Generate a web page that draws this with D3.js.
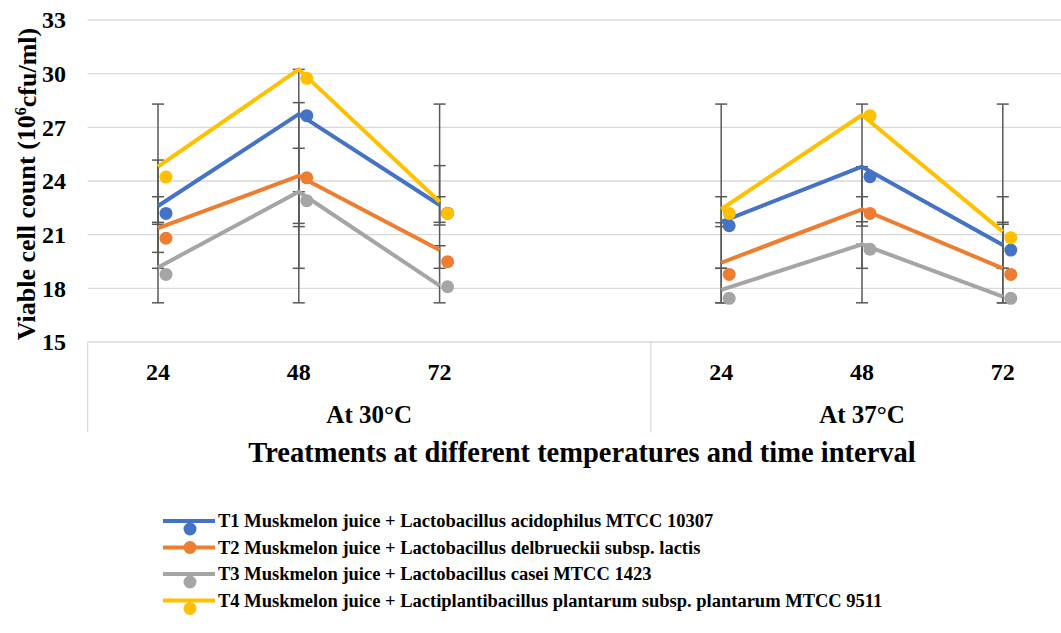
<!DOCTYPE html>
<html>
<head>
<meta charset="utf-8">
<script src="https://d3js.org/d3.v7.min.js"></script>
<style>
  body { margin: 0; background: #fff; }
  svg { display: block; font-family: "Liberation Serif", "Times New Roman", serif; }
</style>
</head>
<body>
<script>
// categories (the blank one is the gap between the two temperatures)
var hours = ["24", "48", "72"];
var temps = ["At 30°C", "At 37°C"];
var slots = ["30-24", "30-48", "30-72", "gap", "37-24", "37-48", "37-72"];
var points = ["30-24", "30-48", "30-72", "37-24", "37-48", "37-72"];
var yTicks = [15, 18, 21, 24, 27, 30, 33];

var names = [
  "T1 Muskmelon juice + Lactobacillus acidophilus MTCC 10307",
  "T2 Muskmelon juice + Lactobacillus delbrueckii subsp. lactis",
  "T3 Muskmelon juice + Lactobacillus casei MTCC 1423",
  "T4 Muskmelon juice + Lactiplantibacillus plantarum subsp. plantarum MTCC 9511"
];
var colors = ["#4472c4", "#ed7d31", "#a5a5a5", "#ffc000"];

// line values
var lineT1 = [22.6, 27.74, 22.66, 21.72, 24.8, 20.42];
var lineT2 = [21.36, 24.28, 20.14, 19.43, 22.42, 19.12];
var lineT3 = [19.17, 23.4, 18.15, 17.91, 20.46, 17.53];
var lineT4 = [24.8, 30.24, 22.84, 22.42, 27.69, 21.17];
// marker values
var dotT1 = [22.19, 27.65, 22.2, 21.5, 24.24, 20.14];
var dotT2 = [20.8, 24.18, 19.49, 18.78, 22.19, 18.78];
var dotT3 = [18.78, 22.9, 18.09, 17.44, 20.18, 17.44];
var dotT4 = [24.22, 29.74, 22.19, 22.19, 27.65, 20.83];
// error bar ends
var lowT1 = [20.01, 21.63, 21.69, 19.12, 21.72, 17.19];
var highT1 = [25.17, 28.38, 24.86, 23.12, 24.8, 23.12];
var lowT2 = [19.12, 19.12, 19.12, 17.19, 19.12, 19.12];
var highT2 = [23.12, 25.83, 23.12, 21.67, 23.12, 21.69];
var lowT3 = [17.19, 17.19, 17.19, 17.19, 17.19, 17.19];
var highT3 = [21.69, 23.4, 20.38, 19.12, 20.46, 21.58];
var lowT4 = [21.58, 21.45, 21.54, 21.45, 21.48, 19.12];
var highT4 = [28.3, 30.24, 28.3, 28.3, 28.3, 28.3];

var lines = [lineT1, lineT2, lineT3, lineT4];
var dots = [dotT1, dotT2, dotT3, dotT4];
var lows = [lowT1, lowT2, lowT3, lowT4];
var highs = [highT1, highT2, highT3, highT4];

var W = 1061, H = 633;
var svg = d3.select("body").append("svg").attr("width", W).attr("height", H);

var x = d3.scaleBand().domain(slots).range([87.6, 1073.2]).padding(0);
var y = d3.scaleLinear().domain([15, 33]).range([342, 20]);
var cx = function(k) { return x(k) + x.bandwidth() / 2; };

// grid
svg.selectAll(".grid").data(yTicks).enter().append("line")
  .attr("x1", x.range()[0]).attr("x2", x.range()[1])
  .attr("y1", function(d) { return y(d); }).attr("y2", function(d) { return y(d); })
  .attr("stroke", "#d9d9d9").attr("stroke-width", 1.3);

// y axis labels
svg.selectAll(".ylab").data(yTicks).enter().append("text")
  .attr("x", 66).attr("y", function(d) { return y(d); }).attr("dy", "0.35em")
  .attr("text-anchor", "end").attr("font-weight", "bold").attr("font-size", 24)
  .text(function(d) { return d; });

// y title
var yt = svg.append("text")
  .attr("transform", "translate(26,184) rotate(-90)")
  .attr("text-anchor", "middle").attr("dy", "0.35em")
  .attr("font-weight", "bold").attr("font-size", 26);
yt.append("tspan").text("Viable cell count (10");
yt.append("tspan").attr("font-size", 16).attr("dy", "-0.6em").text("6");
yt.append("tspan").attr("dy", "0.4em").text("cfu/ml)");

// category axis: separators
[x("30-24"), x("37-24"), x.range()[1]].forEach(function(v) {
  svg.append("line").attr("x1", v).attr("x2", v).attr("y1", y(15)).attr("y2", 432)
    .attr("stroke", "#d9d9d9").attr("stroke-width", 1.3);
});

// hour labels
svg.selectAll(".xlab").data(points).enter().append("text")
  .attr("x", function(d) { return cx(d); }).attr("y", 372).attr("dy", "0.35em")
  .attr("text-anchor", "middle").attr("font-weight", "bold").attr("font-size", 24)
  .text(function(d, i) { return hours[i % 3]; });

// temperature labels
svg.selectAll(".tlab").data(temps).enter().append("text")
  .attr("x", function(d, i) { return i == 0 ? (x("30-24") + x("37-24")) / 2 : (x("37-24") + x.range()[1]) / 2; })
  .attr("y", 414).attr("dy", "0.35em")
  .attr("text-anchor", "middle").attr("font-weight", "bold").attr("font-size", 25)
  .text(function(d) { return d; });

// x title
svg.append("text").attr("x", 582).attr("y", 452).attr("dy", "0.35em")
  .attr("text-anchor", "middle").attr("font-weight", "bold").attr("font-size", 28.5)
  .text("Treatments at different temperatures and time interval");

// error bars
var eb = svg.append("g").attr("stroke", "#595959").attr("stroke-width", 1.5);
lows.forEach(function(lo, s) {
  points.forEach(function(p, i) {
    var xc = cx(p);
    eb.append("line").attr("x1", xc).attr("x2", xc).attr("y1", y(lo[i])).attr("y2", y(highs[s][i]));
    eb.append("line").attr("x1", xc - 6).attr("x2", xc + 6).attr("y1", y(lo[i])).attr("y2", y(lo[i]));
    eb.append("line").attr("x1", xc - 6).attr("x2", xc + 6).attr("y1", y(highs[s][i])).attr("y2", y(highs[s][i]));
  });
});

// series
var line = d3.line().x(function(d) { return cx(d.k); }).y(function(d) { return y(d.v); });
lines.forEach(function(vals, s) {
  var pts = points.map(function(k, i) { return {k: k, v: vals[i]}; });
  [pts.slice(0, 3), pts.slice(3)].forEach(function(seg) {
    svg.append("path").attr("d", line(seg)).attr("fill", "none")
      .attr("stroke", colors[s]).attr("stroke-width", 4).attr("stroke-linejoin", "round");
  });
  svg.selectAll(".dot" + s).data(dots[s]).enter().append("circle")
    .attr("cx", function(d, i) { return cx(points[i]) + 8; })
    .attr("cy", function(d) { return y(d); })
    .attr("r", 6.5).attr("fill", colors[s]);
});

// legend
var lg = svg.selectAll(".leg").data(names).enter().append("g")
  .attr("transform", function(d, i) { return "translate(0," + (521 + i * 26.5) + ")"; });
lg.append("line").attr("x1", 163).attr("x2", 215).attr("y1", 0).attr("y2", 0)
  .attr("stroke", function(d, i) { return colors[i]; }).attr("stroke-width", 4);
lg.append("circle").attr("cx", 190).attr("cy", function(d, i) { return i == 1 ? 0 : 8; })
  .attr("r", 6.5).attr("fill", function(d, i) { return colors[i]; });
lg.append("text").attr("x", 218).attr("y", 0).attr("dy", "0.35em")
  .attr("font-weight", "bold").attr("font-size", 18.5)
  .text(function(d) { return d; });
</script>
</body>
</html>
